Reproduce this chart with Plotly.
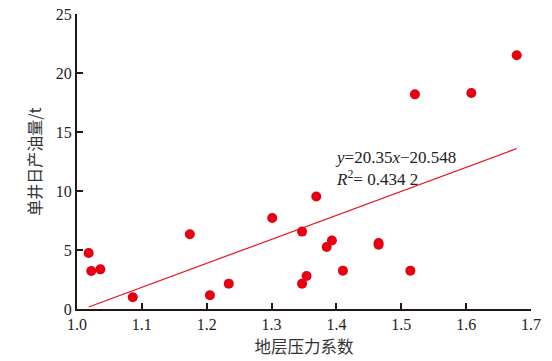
import plotly.graph_objects as go

# Data
pressure_coef = [1.018, 1.022, 1.036, 1.086, 1.174, 1.205, 1.234, 1.301, 1.347, 1.369,
                 1.347, 1.354, 1.385, 1.393, 1.410, 1.465, 1.465, 1.514, 1.521, 1.608, 1.678]
oil_rate = [4.75, 3.22, 3.36, 0.99, 6.33, 1.16, 2.15, 7.71, 6.56, 9.53,
            2.15, 2.80, 5.25, 5.80, 3.25, 5.59, 5.45, 3.25, 18.19, 18.31, 21.5]

fit_slope = 20.35
fit_intercept = -20.548
fit_x = [1.018, 1.678]
fit_y = [fit_slope * x + fit_intercept for x in fit_x]

x_ticks = [1.0, 1.1, 1.2, 1.3, 1.4, 1.5, 1.6, 1.7]
x_tick_labels = ["1.0", "1.1", "1.2", "1.3", "1.4", "1.5", "1.6", "1.7"]
y_ticks = [0, 5, 10, 15, 20, 25]

fig = go.Figure()
fig.add_trace(go.Scatter(x=fit_x, y=fit_y, mode="lines",
                         line=dict(color="#e8121c", width=1.2), showlegend=False))
fig.add_trace(go.Scatter(x=pressure_coef, y=oil_rate, mode="markers",
                         marker=dict(color="#e60012", size=10), showlegend=False))

fig.add_annotation(x=1.395, y=13.8, xref="x", yref="y", xanchor="left", yanchor="top",
                   align="left", showarrow=False,
                   text="<i>y</i>=20.35<i>x</i>−20.548<br><i>R</i><sup>2</sup>= 0.434 2",
                   font=dict(family="Liberation Serif", size=17, color="#222"))

serif = "Liberation Serif"
fig.update_layout(
    width=552, height=361,
    margin=dict(l=77, r=21, t=14, b=52),
    paper_bgcolor="white", plot_bgcolor="white",
    font=dict(family=serif, size=16, color="#222"),
    xaxis=dict(range=[1.0, 1.7], tickvals=x_ticks, ticktext=x_tick_labels,
               automargin=False, ticklabeloverflow="allow",
               showgrid=False, zeroline=False, showline=True, linecolor="#231815",
               linewidth=2, ticks="inside", ticklen=6, tickwidth=1.5, tickcolor="#231815",
               tickfont=dict(family=serif, size=16, color="#222"),
               title=dict(text="地层压力系数", standoff=9,
                          font=dict(family="Noto Sans CJK SC", size=16.5, color="#333"))),
    yaxis=dict(range=[0, 25], tickvals=y_ticks,
               automargin=False, ticklabeloverflow="allow",
               showgrid=False, zeroline=False, showline=True, linecolor="#231815",
               linewidth=2, ticks="inside", ticklen=6, tickwidth=1.5, tickcolor="#231815",
               tickfont=dict(family=serif, size=16, color="#222"),
               title=dict(text="单井日产油量/t", standoff=10,
                          font=dict(family="Noto Sans CJK SC", size=16, color="#333"))),
)

# remove the default 8 px page margin so the figure fills the window exactly
fig.write_html("out.html", config={"displayModeBar": False},
               post_script="document.body.style.margin='0';")
